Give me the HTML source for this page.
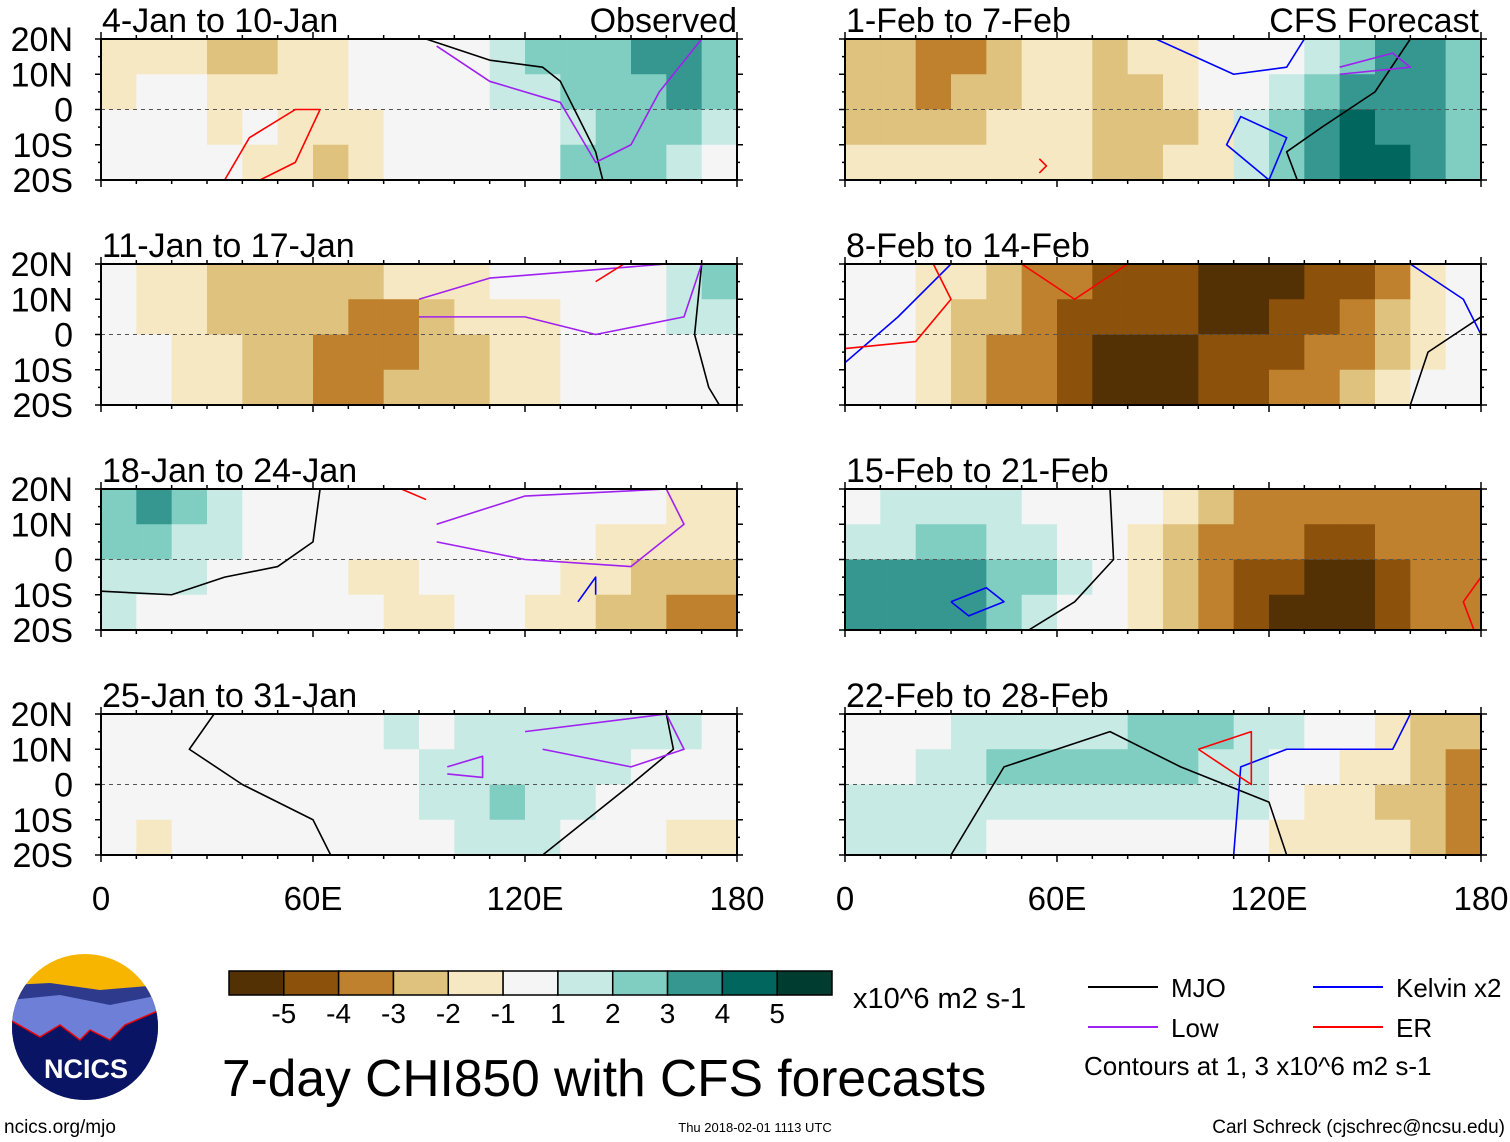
<!DOCTYPE html>
<html><head><meta charset="utf-8">
<style>
body{margin:0;background:#fff;width:1510px;height:1142px;overflow:hidden;font-family:"Liberation Sans",sans-serif}
svg{position:absolute;left:0;top:0}
</style></head>
<body>
<svg id="s" width="1510" height="1142" viewBox="0 0 1510 1142"></svg>
<script>
const levels=[-5,-4,-3,-2,-1,0,1,2,3,4,5];
const levelColors=["#543005","#8c510a","#bf812d","#dfc27d","#f6e8c3","#f5f5f5","#c7eae5","#80cdc1","#35978f","#01665e","#003c30"];
const levelLabels=["-5","-4","-3","-2","-1","1","2","3","4","5"];
const panelTitles=["4-Jan to 10-Jan","1-Feb to 7-Feb","11-Jan to 17-Jan","8-Feb to 14-Feb","18-Jan to 24-Jan","15-Feb to 21-Feb","25-Jan to 31-Jan","22-Feb to 28-Feb"];
const latLabels=["20N","10N","0","10S","20S"];
const lonLabels=["0","60E","120E","180"];
const p1=[[-1,-1,-1,-2,-2,-1,-1,0,0,0,0,1,2,2,2,3,3,2],[-1,0,0,-1,-1,-1,-1,0,0,0,0,1,1,2,2,2,3,2],[0,0,0,-1,0,-1,-1,-1,0,0,0,0,0,1,2,2,2,1],[0,0,0,0,-1,-1,-2,-1,0,0,0,0,0,2,2,2,1,0]];
const p2=[[-2,-2,-3,-3,-2,-1,-1,-2,-1,-1,0,0,0,1,2,3,3,2],[-2,-2,-3,-2,-2,-1,-1,-2,-2,-1,0,0,1,2,3,3,3,2],[-2,-2,-2,-2,-1,-1,-1,-2,-2,-2,-1,1,2,3,4,3,3,2],[-1,-1,-1,-1,-1,-1,-1,-2,-2,-1,-1,1,2,3,4,4,3,2]];
const p3=[[0,-1,-1,-2,-2,-2,-2,-2,-1,-1,-1,0,0,0,0,0,1,2],[0,-1,-1,-2,-2,-2,-2,-3,-3,-2,-1,-1,-1,0,0,0,1,1],[0,0,-1,-1,-2,-2,-3,-3,-3,-2,-2,-1,-1,0,0,0,0,0],[0,0,-1,-1,-2,-2,-3,-3,-2,-2,-2,-1,-1,0,0,0,0,0]];
const p4=[[0,0,-1,-1,-2,-3,-3,-4,-4,-4,-5,-5,-5,-4,-4,-3,-1,0],[0,0,-1,-2,-2,-3,-4,-4,-4,-4,-5,-5,-4,-4,-3,-2,-1,0],[0,0,-1,-2,-3,-3,-4,-5,-5,-5,-4,-4,-4,-3,-3,-2,-1,0],[0,0,-1,-2,-3,-3,-4,-5,-5,-5,-4,-4,-3,-3,-2,-1,0,0]];
const p5=[[2,3,2,1,0,0,0,0,0,0,0,0,0,0,0,0,-1,-1],[2,2,1,1,0,0,0,0,0,0,0,0,0,0,-1,-1,-1,-1],[1,1,1,0,0,0,0,-1,-1,0,0,0,0,-1,-1,-2,-2,-2],[1,0,0,0,0,0,0,0,-1,-1,0,0,-1,-1,-2,-2,-3,-3]];
const p6=[[0,1,1,1,1,0,0,0,0,-1,-2,-3,-3,-3,-3,-3,-3,-3],[1,1,2,2,1,1,0,0,-1,-2,-3,-3,-3,-4,-4,-3,-3,-3],[3,3,3,3,2,2,1,0,-1,-2,-3,-4,-4,-5,-5,-4,-3,-3],[3,3,3,3,2,1,0,0,-1,-2,-3,-4,-5,-5,-5,-4,-3,-3]];
const p7=[[0,0,0,0,0,0,0,0,1,0,1,1,1,1,1,1,1,0],[0,0,0,0,0,0,0,0,0,1,1,1,1,1,1,0,0,0],[0,0,0,0,0,0,0,0,0,1,1,2,1,1,0,0,0,0],[0,-1,0,0,0,0,0,0,0,0,1,1,1,0,0,0,-1,-1]];
const p8=[[0,0,0,1,1,1,1,1,2,2,2,1,1,0,0,-1,-2,-2],[0,0,1,1,2,2,2,2,2,2,1,1,0,0,-1,-1,-2,-3],[1,1,1,1,1,1,1,1,1,1,1,1,0,-1,-1,-2,-2,-3],[1,1,1,1,0,0,0,0,0,0,0,0,-1,-1,-1,-1,-2,-3]];
const fields=[p1,p2,p3,p4,p5,p6,p7,p8];
const mjoLines=[[0,[[92,20],[110,14],[125,12],[130,8],[140,-12],[142,-20]]],[1,[[160,20],[150,5],[135,-5],[125,-12],[128,-20]]],[2,[[170,20],[168,0],[172,-15],[175,-20]]],[3,[[180,5],[165,-5],[160,-20]]],[4,[[0,-9],[20,-10],[35,-5],[50,-2],[60,5],[62,20]]],[5,[[75,20],[76,0],[65,-12],[52,-20]]],[6,[[32,20],[25,10],[40,0],[60,-10],[65,-20]]],[6,[[125,-20],[150,0],[162,10],[160,20]]],[7,[[30,-20],[45,5],[75,15],[95,5],[120,-5],[125,-20]]]];
const lowLines=[[0,[[95,18],[110,8],[130,2],[140,-15],[150,-10],[158,5],[170,20]]],[1,[[140,12],[155,16],[160,12],[140,10]]],[2,[[90,10],[110,16],[160,20],[170,20],[165,5],[140,0],[120,5],[90,5]]],[4,[[95,10],[120,18],[160,20],[165,10],[150,-2],[120,0],[95,5]]],[6,[[120,15],[160,20],[165,10],[150,5],[125,10]]],[6,[[98,5],[108,8],[108,2],[98,3]]]];
const kelLines=[[1,[[88,20],[110,10],[125,12],[130,20]]],[1,[[120,-20],[108,-10],[112,-2],[125,-8],[120,-20]]],[3,[[0,-8],[15,5],[30,20]]],[3,[[160,20],[175,10],[180,0]]],[4,[[135,-12],[140,-5],[140,-10]]],[5,[[30,-12],[40,-8],[45,-12],[35,-16],[30,-12]]],[7,[[110,-20],[112,5],[125,10],[155,10],[160,20]]]];
const erLines=[[0,[[35,-20],[42,-8],[55,0],[62,0],[55,-15],[45,-20]]],[1,[[55,-14],[57,-16],[55,-18]]],[2,[[140,15],[148,20]]],[3,[[0,-4],[20,-2],[30,10],[25,20]]],[3,[[50,20],[65,10],[80,20]]],[4,[[85,20],[92,17]]],[5,[[178,-20],[175,-12],[180,-5]]],[7,[[100,10],[115,0],[115,15],[100,10]]]];
const lineStyles={mjo:"#000",low:"#a020f0",kel:"#0000ff",er:"#ff0000"};

const NS="http://www.w3.org/2000/svg",s=document.getElementById('s');
function el(t,a,p){const e=document.createElementNS(NS,t);for(const k in a)e.setAttribute(k,a[k]);(p||s).appendChild(e);return e;}
const colX=[101,845],rowY=[39,264,489,714],W=636,H=141;
function px(i){return colX[i%2];}
function py(i){return rowY[Math.floor(i/2)];}
function xs(i,lon){return px(i)+lon/180*W;}
function ys(i,lat){return py(i)+(20-lat)/40*H;}
function col(v){return levelColors[levels.indexOf(Math.max(-5,Math.min(5,v)))];}
function txt(x,y,t,sz,anc,name){const e=el('text',{x:x,y:y,'font-size':sz,'text-anchor':anc||'start'});e.textContent=t;return e;}
const defs=el('defs',{});
fields.forEach((f,i)=>{
  const cp=el('clipPath',{id:'c'+i},defs);el('rect',{x:px(i),y:py(i),width:W,height:H},cp);
  const g=el('g',{'clip-path':'url(#c'+i+')'});
  
  
  f.forEach((row,r)=>row.forEach((v,c)=>{
    const lat=20-r*10;
    const y0=ys(i,lat),y1=ys(i,lat-10);
    const x0=xs(i,c*10),x1=xs(i,c*10+10);
    const rc=el('rect',{x:x0,y:y0,width:x1-x0+0.5,height:y1-y0+0.5,fill:col(v)},g);
    
    
  }));
  el('line',{x1:px(i),x2:px(i)+W,y1:ys(i,0),y2:ys(i,0),stroke:'#555','stroke-dasharray':'4,4','stroke-width':1},g);
  [[mjoLines,'mjo'],[lowLines,'low'],[kelLines,'kel'],[erLines,'er']].forEach(([arr,k])=>arr.filter(a=>a[0]==i).forEach(a=>{
    const pl=el('polyline',{points:a[1].map(p=>xs(i,p[0])+','+ys(i,p[1])).join(' '),fill:'none',stroke:lineStyles[k],'stroke-width':1.6,'stroke-linejoin':'round'},g);
    
    
  }));
  el('rect',{x:px(i),y:py(i),width:W,height:H,fill:'none',stroke:'#000','stroke-width':2});
  for(let l=0;l<=180;l+=10){const x=xs(i,l),L=l%60==0?7:4;el('line',{x1:x,x2:x,y1:py(i)+H,y2:py(i)+H+L,stroke:'#000','stroke-width':1.5});el('line',{x1:x,x2:x,y1:py(i),y2:py(i)-L,stroke:'#000','stroke-width':1.5});}
  for(let l=-20;l<=20;l+=5){const y=ys(i,l),L=l%10==0?6:3;el('line',{x1:px(i)-L,x2:px(i),y1:y,y2:y,stroke:'#000','stroke-width':1.5});el('line',{x1:px(i)+W,x2:px(i)+W+L,y1:y,y2:y,stroke:'#000','stroke-width':1.5});}
  txt(px(i)+1,py(i)-7,panelTitles[i],34,'start','panel-title');
  if(i%2==0) latLabels.forEach((t,k)=>txt(px(i)-28,ys(i,20-k*10)+12,t,34,'end','lat-label'));
});
txt(737,32,"Observed",34,'end','observed-label');
txt(1479,32,"CFS Forecast",34,'end','forecast-label');
[0,1].forEach(c=>lonLabels.forEach((t,k)=>txt(colX[c]+k*60/180*W,910,t,33,'middle','lon-label')));
const cbx=229,cbw=(832-229)/11;
levelColors.forEach((c,k)=>{const r=el('rect',{x:cbx+k*cbw,y:971,width:cbw,height:24,fill:c,stroke:'#000','stroke-width':1.5});});
levelLabels.forEach((t,k)=>txt(cbx+(k+1)*cbw,1023,t,28,'middle','colorbar-label'));
txt(853,1008,"x10^6 m2 s-1",29,'start','colorbar-units');
txt(222,1096,"7-day CHI850 with CFS forecasts",51.5,'start','main-title');
[[1088,987,'#000','MJO'],[1088,1027,'#a020f0','Low'],[1313,987,'#0000ff','Kelvin x2'],[1313,1027,'#ff0000','ER']].forEach(l=>{
  el('line',{x1:l[0],x2:l[0]+70,y1:l[1],y2:l[1],stroke:l[2],'stroke-width':2});
  txt(l[0]+83,l[1]+10,l[3],26,'start','legend-entry');
});
txt(1084,1075,"Contours at 1, 3 x10^6 m2 s-1",26,'start','contour-note');
txt(4,1133,"ncics.org/mjo",19,'start','url-label');
txt(755,1132,"Thu 2018-02-01 1113 UTC",13,'middle','timestamp');
txt(1505,1133,"Carl Schreck (cjschrec@ncsu.edu)",19,'end','author');
const lg=el('g',{});
const lc=el('clipPath',{id:'lc'},defs);el('circle',{cx:85,cy:1027,r:73},lc);
const li=el('g',{'clip-path':'url(#lc)'},lg);
el('rect',{x:10,y:950,width:150,height:160,fill:'#f7b500'},li);
el('path',{d:'M10 985 L50 983 L100 990 L160 985 L160 1110 L10 1110Z',fill:'#2e3a8c'},li);
el('path',{d:'M10 1000 L60 995 L110 1005 L160 995 L160 1110 L10 1110Z',fill:'#6e7fd8'},li);
el('path',{d:'M10 1020 L40 1037 L60 1025 L80 1040 L90 1030 L110 1040 L125 1025 L160 1010 L160 1110 L10 1110Z',fill:'#0a1464',stroke:'#e00','stroke-width':1.5},li);
const nt=txt(86,1078,"NCICS",27,'middle','logo-text');nt.setAttribute('fill','#fff');nt.setAttribute('font-weight','bold');
</script>
</body></html>
